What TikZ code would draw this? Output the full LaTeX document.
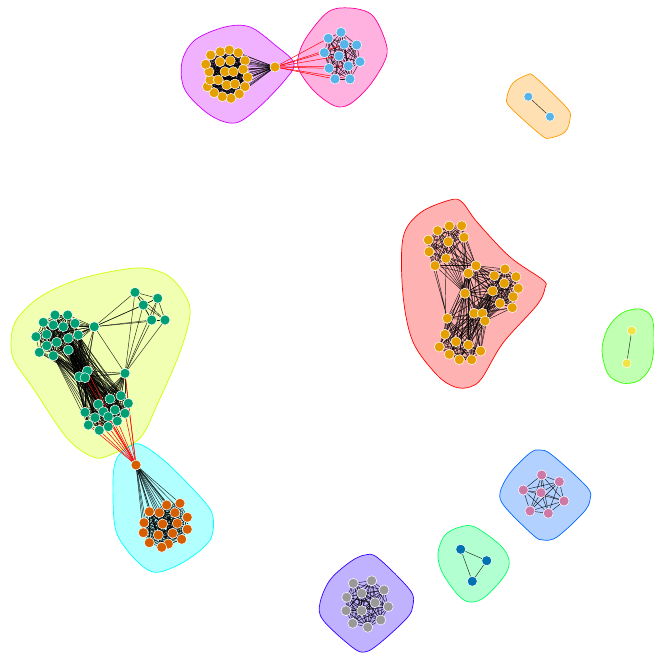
\documentclass[tikz,border=0pt]{standalone}
\usepackage{xcolor}
\usepackage{tikz}
\usetikzlibrary{calc}
\pgfdeclarelayer{hulls}
\pgfdeclarelayer{edges}
\pgfsetlayers{hulls,edges,main}
% hull colours
\definecolor{hullred}{HTML}{FF0000}
\definecolor{hullorange}{HTML}{FF9900}
\definecolor{hullyellow}{HTML}{CCFF00}
\definecolor{hullgreen}{HTML}{33FF00}
\definecolor{hullmint}{HTML}{00FF66}
\definecolor{hullcyan}{HTML}{00FFFF}
\definecolor{hullblue}{HTML}{0066FF}
\definecolor{hullindigo}{HTML}{3300FF}
\definecolor{hullmagenta}{HTML}{CC00FF}
\definecolor{hullpink}{HTML}{FF0099}
% vertex colours
\definecolor{vorange}{HTML}{E69F00}
\definecolor{vsky}{HTML}{56B4E9}
\definecolor{vgreen}{HTML}{009E73}
\definecolor{vyellow}{HTML}{F0E442}
\definecolor{vblue}{HTML}{0072B2}
\definecolor{vverm}{HTML}{D55E00}
\definecolor{vpink}{HTML}{CC79A7}
\definecolor{vgray}{HTML}{999999}
% all pairs inside one group
\newcommand{\clique}[2]{%
  \foreach \i in {1,...,#2}{\foreach \j in {1,...,#2}{%
    \ifnum\j>\i \draw[link] (#1\i) -- (#1\j);\fi}}}

\begin{document}
\begin{tikzpicture}[x=1pt, y=-1pt,
    vtx/.style={circle, inner sep=0pt, minimum size=10pt, draw=white, line width=0.5pt},
    link/.style={draw=black, line width=0.45pt, opacity=0.85},
    redlink/.style={draw=red, line width=0.5pt},
    hull/.style={draw=#1, fill=#1, fill opacity=0.3, line width=0.7pt}
]
    \useasboundingbox (0,0) rectangle (654,653);

    % community hulls
    \begin{pgfonlayer}{hulls}
    \draw[hull=hullmagenta] plot[smooth cycle, tension=0.55] coordinates {(182,62) (195,40) (225,27) (250,27) (275,45) (294,63) (285,80) (258,108) (235,123) (210,115) (185,90)};
    \draw[hull=hullpink] plot[smooth cycle, tension=0.55] coordinates {(298,58) (306,38) (328,12) (350,8) (372,15) (385,40) (386,58) (370,85) (350,104) (335,106) (315,92) (300,72)};
    \draw[hull=hullorange] plot[smooth cycle, tension=0.55] coordinates {(507,97) (513,83) (527,75) (535,77) (567,108) (570,119) (565,132) (550,138) (541,135) (510,107)};
    \draw[hull=hullred] plot[smooth cycle, tension=0.55] coordinates {(403,238) (420,213) (450,200) (462,202) (477,222) (510,257) (543,280) (545,288) (537,305) (503,343) (482,378) (470,387) (455,387) (437,375) (413,342) (403,295)};
    \draw[hull=hullgreen] plot[smooth cycle, tension=0.55] coordinates {(602,350) (608,328) (622,313) (640,309) (652,318) (654,345) (650,368) (638,381) (622,383) (608,374)};
    \draw[hull=hullyellow] plot[smooth cycle, tension=0.55] coordinates {(12,332) (20,315) (43,295) (83,278) (137,268) (167,275) (185,295) (190,315) (180,352) (157,405) (140,438) (110,455) (93,457) (67,438) (33,388) (13,358)};
    \draw[hull=hullcyan] plot[smooth cycle, tension=0.55] coordinates {(113,480) (117,458) (130,446) (142,445) (167,463) (203,500) (213,517) (210,540) (187,560) (160,572) (145,568) (127,550) (115,527)};
    \draw[hull=hullblue] plot[smooth cycle, tension=0.55] coordinates {(500,493) (510,473) (530,453) (540,450) (552,455) (587,487) (590,500) (583,513) (557,537) (543,540) (533,535) (505,507)};
    \draw[hull=hullmint] plot[smooth cycle, tension=0.55] coordinates {(438,553) (445,535) (460,527) (475,527) (500,545) (509,560) (505,575) (485,597) (470,602) (458,595) (442,572)};
    \draw[hull=hullindigo] plot[smooth cycle, tension=0.55] coordinates {(320,603) (330,580) (350,562) (365,555) (378,558) (410,590) (413,605) (407,618) (380,643) (365,652) (352,647) (323,620)};
    \end{pgfonlayer}

    % vertices
    \foreach \n/\x/\y in {1/210.7/55, 2/220.3/51.7, 3/229.3/50, 4/238.3/52.7, 5/245/60.7, 6/243.3/69.3, 7/247.7/77.3, 8/245/86.7, 9/239.3/94, 10/231/98.3, 11/222.3/96.7, 12/214/92.7, 13/207.3/86.7, 14/210/80, 15/209/71.7, 16/205.7/64.3, 17/220/61.7, 18/230.3/60.7, 19/225/71.7, 20/233.3/71.7, 21/218.3/80, 22/226.7/85, 23/235/84}
        \node[vtx, fill=vorange] (m\n) at (\x,\y) {};
    \node[vtx, fill=vorange] (mhub) at (275,67) {};
    \foreach \n/\x/\y in {1/328.3/38.3, 2/341/32.3, 3/344.3/44.3, 4/356.7/45, 5/324.3/52.7, 6/339/56, 7/360/61.7, 8/329/68.3, 9/348.3/66, 10/335/79, 11/350/79}
        \node[vtx, fill=vsky] (b\n) at (\x,\y) {};
    \node[vtx, fill=vsky, minimum size=9pt] (a1) at (528.3,96.7) {};
    \node[vtx, fill=vsky, minimum size=9pt] (a2) at (550,116.7) {};
    \foreach \n/\x/\y in {1/437.7/230.7, 2/449.3/226, 3/461.7/225.7, 4/428.3/240, 5/448.3/241.7, 6/464/237.3, 7/429/251.7, 8/446/258.3, 9/435/265.7}
        \node[vtx, fill=vorange] (rt\n) at (\x,\y) {};
    \foreach \n/\x/\y in {1/476/265.7, 2/468.3/273.3, 3/505/269, 4/516/276.7, 5/494.3/275.7, 6/504.3/283.3, 7/518.3/288.3, 8/492.7/291, 9/513.3/296.7, 10/500/303.3, 11/512.3/307.7, 12/465/293.3, 13/474/313.3, 14/482.3/313.3, 15/485/321}
        \node[vtx, fill=vorange] (rm\n) at (\x,\y) {};
    \foreach \n/\x/\y in {1/447.3/318.3, 2/445/334.3, 3/456/341.7, 4/468.3/345, 5/439.3/347, 6/480.7/351, 7/449.3/354.3, 8/459.3/359.7, 9/471.7/359.7}
        \node[vtx, fill=vorange] (rb\n) at (\x,\y) {};
    \node[vtx, fill=vyellow, minimum size=9pt] (y1) at (631.7,330.7) {};
    \node[vtx, fill=vyellow, minimum size=9pt] (y2) at (626.7,363.3) {};
    \foreach \n/\x/\y in {1/55/315, 2/67.7/315, 3/43.3/322.3, 4/53.3/325, 5/63.3/326.7, 6/75/323.3, 7/36/336.7, 8/46.7/334.3, 9/56.7/342.3, 10/68.3/338.3, 11/78.3/335, 12/46.7/345.7, 13/39.3/352.3, 14/53.3/355.7, 15/68.3/350}
        \node[vtx, fill=vgreen] (u\n) at (\x,\y) {};
    \node[vtx, fill=vgreen] (thub) at (94.3,326.7) {};
    \foreach \n/\x/\y in {1/135/292.3, 2/157.7/298.3, 3/143.3/305, 4/151.7/320, 5/165/320}
        \node[vtx, fill=vgreen] (v\n) at (\x,\y) {};
    \node[vtx, fill=vgreen] (tmid) at (125,373.3) {};
    \foreach \n/\x/\y in {1/87.3/371, 2/79.3/376.7, 3/85/377.7}
        \node[vtx, fill=vgreen] (k\n) at (\x,\y) {};
    \foreach \n/\x/\y in {1/121/395.7, 2/110/399, 3/128.3/403.3, 4/98.3/404.3, 5/115/410, 6/103.3/411.7, 7/85/412.3, 8/125/413.3, 9/95/417.7, 10/108.3/416.7, 11/117.3/421, 12/88.3/425, 13/99.3/430.3, 14/108.3/426.7}
        \node[vtx, fill=vgreen] (w\n) at (\x,\y) {};
    \node[vtx, fill=vverm] (ohub) at (136,465) {};
    \foreach \n/\x/\y in {1/166.7/505, 2/180/503.3, 3/149.3/511.7, 4/159.3/512.7, 5/175/512.7, 6/187.3/517.3, 7/144/522.7, 8/162.7/524, 9/177.3/523.3, 10/143.3/532.7, 11/158.3/535, 12/172.7/533.3, 13/187.3/529.3, 14/149.3/542.7, 15/168.3/544, 16/181.7/539.3, 17/161.7/547.3}
        \node[vtx, fill=vverm] (o\n) at (\x,\y) {};
    \foreach \n/\x/\y in {1/541.7/475, 2/559.3/481.7, 3/523.3/490, 4/541/492.7, 5/564/501, 6/530/511, 7/548.3/513.3}
        \node[vtx, fill=vpink] (p\n) at (\x,\y) {};
    \foreach \n/\x/\y in {1/460.7/549.3, 2/486.7/560.7, 3/472.3/581.3}
        \node[vtx, fill=vblue] (n\n) at (\x,\y) {};
    \foreach \n/\x/\y in {1/353.3/583.3, 2/371.7/580.7, 3/346.7/597.3, 4/361.7/593.3, 5/384/590, 6/375/602.7, 7/388.3/606.7, 8/346/610.7, 9/361.7/610.7, 10/380.7/620, 11/352.7/623.3, 12/367.7/627.3}
        \node[vtx, fill=vgray] (g\n) at (\x,\y) {};

    % edges
    \begin{pgfonlayer}{edges}
    \clique{m}{23}
    \foreach \i in {1,...,23} \draw[link] (mhub) -- (m\i);
    \clique{b}{11}
    \foreach \i in {1,3,5,6,8,9,10,11} \draw[redlink] (mhub) -- (b\i);
    \draw[link] (a1) -- (a2);
    \clique{rt}{9}
    \clique{rm}{15}
    \clique{rb}{9}
    \foreach \i in {1,...,9}{\foreach \j in {1,2,12}{\draw[link] (rt\i) -- (rm\j);}}
    \foreach \i in {1,...,9}{\foreach \j in {2,8,12,13,14,15}{\draw[link] (rb\i) -- (rm\j);}}
    \draw[link] (rt9) -- (rb1) (rt7) -- (rb1) (rt8) -- (rb2);
    \draw[link] (y1) -- (y2);
    \clique{u}{15}
    \clique{v}{5}
    \clique{k}{3}
    \clique{w}{14}
    \foreach \i in {1,...,15} \draw[link] (thub) -- (u\i);
    \foreach \i in {1,...,5} \draw[link] (thub) -- (v\i);
    \foreach \i in {1,...,5} \draw[link] (tmid) -- (v\i);
    \draw[link] (thub) -- (tmid);
    \foreach \i in {1,...,3}{\draw[link] (thub) -- (k\i); \draw[link] (tmid) -- (k\i);}
    \foreach \i in {1,...,14} \draw[link] (tmid) -- (w\i);
    \foreach \i in {1,...,15}{\foreach \j in {1,...,3}{\draw[link] (u\i) -- (k\j);}}
    \foreach \i in {5,10,11,14,15}{\foreach \j in {1,...,14}{\draw[link] (u\i) -- (w\j);}}
    \foreach \i in {1,...,3}{\foreach \j in {1,...,14}{\draw[link] (k\i) -- (w\j);}}
    \foreach \s in {tmid,k1,k3,w3,w6,w8,w9,w10,w11,w12,w13,w14} \draw[redlink] (\s) -- (ohub);
    \clique{o}{17}
    \foreach \i in {1,...,17} \draw[link] (ohub) -- (o\i);
    \clique{p}{7}
    \clique{n}{3}
    \clique{g}{12}
    \end{pgfonlayer}
\end{tikzpicture}
\end{document}
